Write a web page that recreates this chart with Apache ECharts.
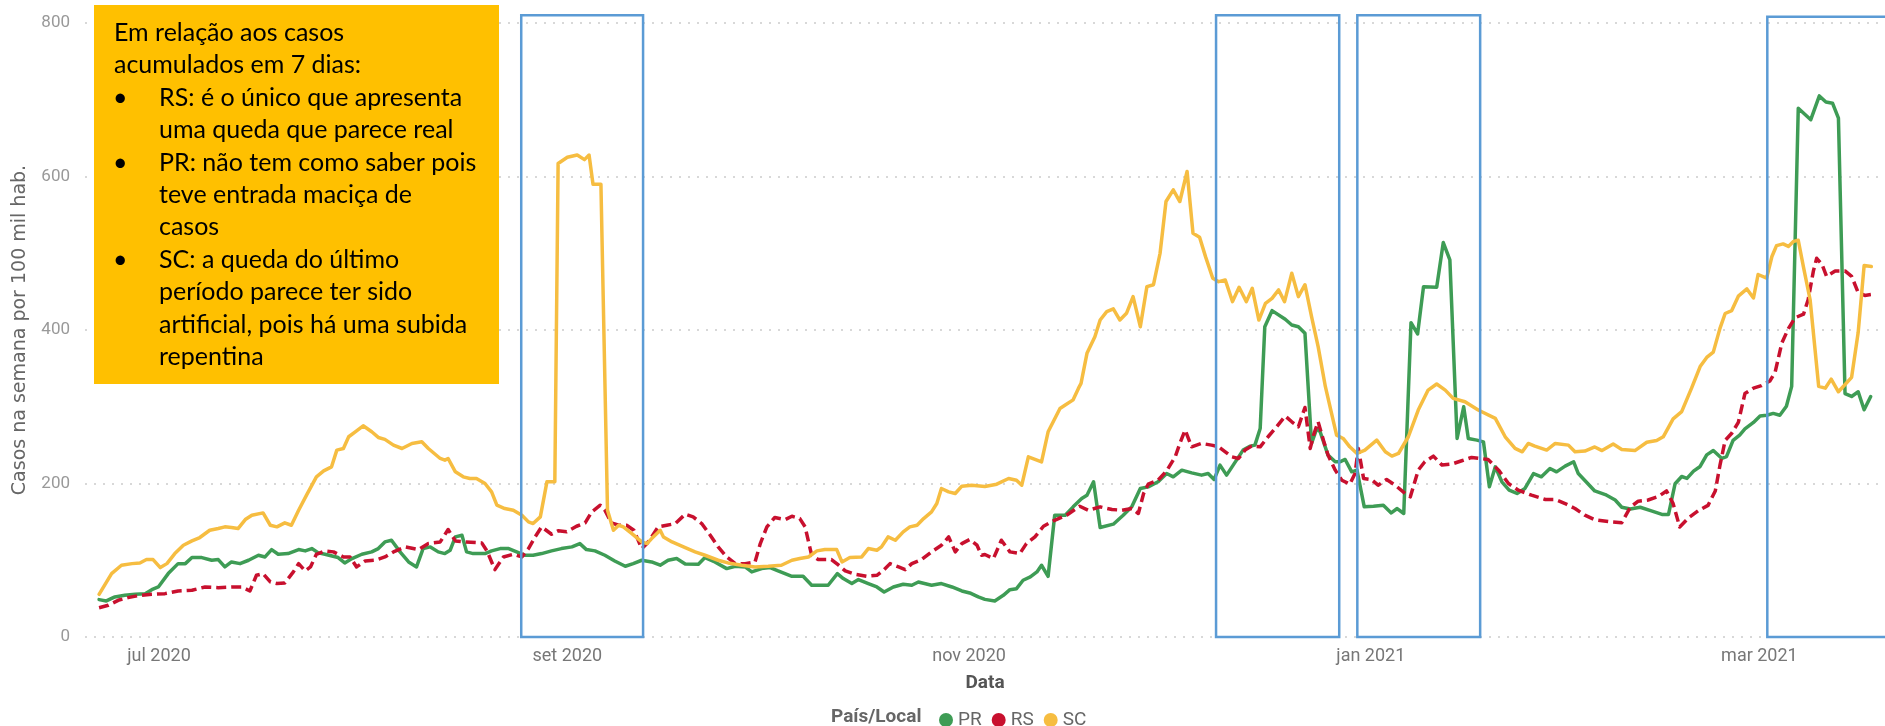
<!DOCTYPE html>
<html>
<head>
<meta charset="utf-8">
<title>Casos na semana por 100 mil hab.</title>
<script src="https://cdn.jsdelivr.net/npm/echarts@6/dist/echarts.min.js"></script>
<style>
  html, body { margin: 0; padding: 0; background: #fff; }
  #grafico { width: 1885px; height: 726px; }
</style>
</head>
<body>
<div id="grafico"></div>
<script>
// eixo x em dias contados a partir de 21/06/2020
var inicio = new Date(2020, 5, 21).getTime();
var DIA = 86400000;

var estados = ['PR', 'RS', 'SC'];
var cores = ['#3E9C55', '#C8102E', '#F6BD41'];

var mesesData = [[2020, 6], [2020, 8], [2020, 10], [2021, 0], [2021, 2]];
var mesesTexto = ['jul 2020', 'set 2020', 'nov 2020', 'jan 2021', 'mar 2021'];

var prDia = [0.9,2.0,3.3,4.8,6.4,7.9,8.9,9.9,11.4,12.9,14.0,15.0,16.5,18.0,19.0,20.0,21.0,22.3,23.6,25.1,26.1,27.1,28.1,29.6,31.2,32.2,33.2,34.2,35.2,37.2,38.2,39.3,40.8,42.3,43.3,44.3,45.3,46.6,47.9,49.1,50.1,51.2,52.4,53.4,54.2,55.0,56.0,56.7,57.7,59.5,60.5,61.8,63.1,64.3,65.6,66.8,68.1,69.6,71.1,72.7,73.9,74.9,76.2,77.7,79.2,80.8,82.0,83.3,84.8,86.1,87.3,88.6,89.9,91.9,92.9,94.4,96.2,97.5,99.0,100.0,101.5,102.8,104.0,106.1,107.8,109.1,111.6,113.0,113.9,115.2,116.2,117.7,119.0,120.1,121.5,123.0,124.3,125.3,127.3,128.8,130.4,131.9,133.1,134.4,135.4,136.9,138.2,139.2,140.2,141.2,142.3,143.3,144.0,145.0,146.0,147.6,148.8,150.1,150.9,151.9,152.9,154.9,156.4,157.7,159.0,160.2,161.7,163.0,164.0,165.3,166.8,168.3,169.3,170.2,171.1,172.1,173.1,174.6,175.7,176.4,177.2,177.9,179.0,181.0,182.0,183.0,184.0,185.0,185.8,186.3,187.5,188.6,189.3,190.1,191.1,191.9,193.0,194.4,195.9,197.1,198.0,199.0,200.1,201.1,202.0,204.0,205.0,206.0,207.1,208.1,208.8,210.1,211.1,212.0,212.9,213.9,215.0,216.2,217.4,218.7,219.9,221.2,222.2,223.5,224.8,225.5,226.5,228.0,229.6,231.1,232.1,233.4,234.9,236.6,238.2,239.2,240.2,241.2,242.0,243.0,244.0,245.0,246.0,247.3,248.0,249.0,250.0,250.8,252.1,253.1,254.1,255.1,256.1,257.1,257.9,258.9,260.8,262.1,263.1,264.1,265.0,266.0,267.0,268.0,268.9,269.9];
var prValor = [48.7,47,52.2,54.3,55.6,56.5,61.7,65.2,82.6,95.6,95.6,103.5,103.5,100,100.9,91.3,97.8,95.6,100,106.5,104.3,113.9,107.8,108.7,113.9,112.2,115.2,109.6,107.8,103.5,96.5,102.2,107.8,110.9,115.2,123.9,126.1,110.9,97.8,91.3,115.2,117.4,110.9,108.7,113,130.4,132.6,110.9,108.7,108.7,112.2,115.2,115.2,110.9,106.5,106.5,108.7,112.2,115.2,117.4,121.7,113.9,112.2,106.5,99.1,92.2,95.6,100,97.8,93.5,100,102.2,95,94.8,103.5,97.8,89.1,92.2,91.3,84.8,89.1,90.4,86.1,79.1,79.1,67.4,67.4,82.6,76.1,69.6,74.8,69.6,65.2,58.7,65.2,68.7,67.4,71.7,67.4,69.6,65.2,60,57.4,52.2,49,47,54.3,61.7,63,73.9,78.3,84.8,93.5,79.1,158.7,158.7,169.6,180.4,184.8,202.2,142.6,147,158.7,169.6,193.5,195.6,202.2,213,208.7,217.4,213.9,210.9,213,205.2,223.9,210.9,223.9,243.5,248.7,250,271.7,404.3,425.2,414,406.5,404.3,395.7,252.2,271.7,267.4,237,228.3,228.3,231.3,215.2,217.4,169.6,170.4,171.7,161.7,167.4,160.9,409.6,394.8,456.5,455.7,513.9,491.3,258.7,300,258.7,256.5,254.3,195.7,221.7,202.2,191.3,187,193.5,213,208.7,219.6,215.2,222.6,228.3,213,204,190.3,185.6,178.5,169.1,166.8,169.1,164.4,159.7,159.7,199.7,209.1,206.7,216.1,222.2,237.3,242.9,232.6,234.9,256.1,263.1,271.1,279.6,288,289,291.3,289,300.7,326.6,689,674,705,697,695.5,676,317.2,313.4,319.5,296,313.4];

var rsDia = [0.9,2.3,3.8,5.3,7.1,8.9,10.9,12.9,15.0,17.0,19.0,21.0,22.6,23.8,24.8,25.8,26.9,27.9,29.1,30.4,31.2,32.2,33.0,33.9,35.2,36.5,38.0,39.0,40.0,41.3,42.8,44.3,45.6,47.4,49.4,50.9,52.7,53.9,55.0,56.5,59.0,59.8,61.0,62.3,63.8,65.1,66.1,67.1,68.1,69.6,70.6,71.9,73.4,74.7,75.7,77.0,77.7,78.7,79.8,81.0,82.1,83.3,84.1,84.8,85.8,87.1,88.4,89.9,91.1,92.4,93.7,94.9,96.2,97.5,99.0,100.5,101.3,102.3,103.5,105.1,106.1,107.3,108.1,109.1,110.1,112.1,113.2,114.2,115.7,117.5,119.0,120.0,121.0,122.3,123.3,124.3,125.8,127.3,128.8,129.9,130.9,131.9,133.1,134.2,134.9,135.4,136.7,137.9,139.2,140.7,141.7,143.0,144.3,145.8,147.8,149.8,151.1,152.9,154.7,156.2,157.7,158.7,159.5,160.2,161.7,163.0,164.3,165.0,165.8,166.8,168.3,169.8,170.9,171.9,172.9,173.9,174.9,175.9,177.2,178.4,179.7,181.0,182.0,183.0,184.0,184.8,185.3,186.0,186.8,187.5,188.6,189.6,190.8,191.6,192.1,192.9,194.1,195.1,196.4,197.7,199.2,200.0,201.2,202.2,203.5,204.8,206.3,207.8,209.3,210.6,211.8,213.4,214.9,216.4,218.4,220.5,222.0,223.5,225.0,226.5,228.0,230.1,232.1,233.4,234.6,236.1,237.7,238.9,239.9,240.9,242.2,243.7,245.2,246.3,247.0,247.8,248.8,249.8,250.8,252.1,253.3,254.6,255.4,256.4,257.4,258.4,259.7,260.4,261.2,261.7,262.5,263.2,264.5,266.0,267.0,268.0,269.0,270.1];
var rsValor = [38.2,41.3,47.8,51.3,54.3,55.6,56.5,60,60.9,65.2,64.3,65.2,65.2,60,80.4,82.6,71.7,69.6,70.4,84.8,95.6,86.1,91.3,107.8,112.2,110.9,104.3,104.3,91.3,99.1,100,104.3,110.9,117.4,113.9,121.7,123.9,140,125.2,123.9,122.6,112.2,87.8,104.3,107.8,104.3,115.2,130.4,143.5,133.9,138.3,137,144.3,148.7,163,171.7,165.2,148.7,145.6,145.6,139.1,115.2,121.7,130.4,143.5,145.6,147.8,160,156.5,147.8,132.6,117.4,104.3,95.6,95.6,97.8,121.7,143.5,155.7,153,157.4,154.3,143.5,106.5,100.9,100.9,93.5,86.1,81.7,79.1,80.4,87,95.6,91.3,87.8,95.6,100.9,110.9,119.6,130.4,110.9,121.7,127,119.6,106.5,107.5,102.2,126.1,110.9,108.7,121.7,130.4,144.3,151.3,158.7,170.4,165.2,169.6,166.1,165.2,167.4,160.9,187,199.1,204.3,216.5,234.8,252.2,269.6,247.8,252.2,250,247.8,241.3,234.8,232.6,243.5,248.7,247.8,260.9,273.9,288,280.4,273.9,299.1,245.7,263,280.4,256.5,237,217.4,204.3,199.1,213,245.7,206.5,205.2,197.8,205.2,197.8,187,182.6,217.4,228.3,235.7,224,225.3,229.6,234,232.6,231.3,217.4,200,191.3,184.8,179.1,179.1,173.9,167.4,158.7,152.7,150.3,148.9,169.1,177,178.5,183.2,190.3,173.8,143.3,155,164.4,171.5,190.3,223.2,256.1,265.5,279.6,317.2,324.2,327.5,333.6,345.4,383,401.8,415.9,420.6,439.4,477,493.4,485.5,469.9,477,477,469.9,448.8,445,446.4];

var scDia = [0.9,2.8,4.3,5.9,7.1,8.1,9.1,10.2,11.2,12.4,13.7,15.0,16.2,17.7,19.0,20.0,21.0,22.0,23.1,24.1,25.8,26.9,27.9,29.1,30.1,31.2,32.4,33.9,35.0,36.2,37.0,38.0,38.8,39.8,41.0,42.3,43.3,44.3,45.6,46.9,48.4,49.9,50.9,52.7,53.4,53.9,55.0,56.2,57.2,58.2,59.5,60.5,61.3,62.5,63.8,65.1,66.1,66.8,67.9,68.9,70.1,70.6,72.0,73.5,74.6,75.3,75.9,77.1,78.1,79.0,79.8,80.5,81.8,83.3,84.1,84.8,86.1,86.6,87.9,89.9,91.4,92.9,94.9,96.4,98.5,100.5,102.5,104.5,106.1,107.3,108.6,109.9,111.1,112.9,113.7,114.9,116.7,117.7,119.0,119.7,120.7,121.8,123.0,124.0,125.1,126.1,127.3,128.1,128.8,129.9,130.9,131.9,133.4,135.4,137.2,139.0,140.2,141.0,142.0,144.0,145.0,146.8,147.6,148.8,149.6,150.0,150.9,152.1,152.9,153.9,154.9,155.9,156.9,157.9,159.0,160.0,161.0,162.0,162.9,164.0,165.0,166.1,167.0,168.0,168.9,170.0,170.9,171.9,173.0,174.0,175.1,176.0,177.0,178.0,179.0,180.0,180.9,182.0,183.0,184.0,185.0,186.0,187.1,188.8,189.8,190.8,191.9,193.1,194.9,196.2,197.2,198.2,199.7,201.2,202.7,204.0,205.3,206.5,208.3,210.3,212.9,214.4,215.9,217.0,217.9,218.9,220.7,222.0,224.0,225.0,226.5,228.0,229.1,230.8,232.1,234.1,235.9,237.4,238.4,239.9,241.2,242.7,244.0,245.0,246.0,247.0,247.8,248.8,249.8,251.1,252.1,252.8,254.1,254.9,255.6,256.6,257.4,258.2,258.9,259.7,260.7,262.0,263.0,263.9,265.0,267.0,268.0,268.9,270.0];
var scValor = [55.6,82.6,93.5,95.6,96.5,100.9,100.9,90.4,95.6,108.7,119.6,125.2,129.6,139.1,141.3,143.5,142.6,141.3,153,158.7,161.7,145.6,143.5,148.7,145.6,165.2,184.8,208.7,216.5,221.7,243.5,245.6,260.9,267.4,275.2,267.4,260,257.5,250,245.6,252.2,254.3,245.6,232.6,230.4,232.6,215.2,208.7,206.5,206.5,200,189,171.7,167.4,165.2,158.7,150,147.8,156.5,202.2,202.2,617,625,628,622,628,590,590,165,139,145.6,143.5,134.8,123.9,121.7,128.2,139.1,130.4,123.9,116.5,110.9,106.5,100,96.5,93.5,91.3,92.2,93.5,100,102.2,104.3,112.2,113.9,113.9,97.8,103.5,104.3,115.2,113,117.4,130.4,126.1,137,143.5,145.6,154.3,163,173.9,193.5,189.1,187,196.5,197.8,196,199.1,206.5,204.3,197.8,234.8,228.2,267.4,297.8,302.2,309,323.9,330.4,369.6,391.3,413,423.9,427.5,413,421.7,443.5,404.3,456.5,459,500,567.4,582.6,567.4,606.5,526,520.9,495.6,467.4,463,465.2,437,455.6,437,454.3,413,434.8,441.3,452.2,437,474,443.5,459,417.4,378.3,326.1,263,258.7,247.8,239.1,243.5,256.5,241.3,235.7,239.1,260.9,295.7,321.7,329.6,321.7,310.9,306.5,295.7,284.8,260.9,245.7,241.3,252.2,248.7,243.5,252.2,250,241.3,242.3,247.6,242.9,251.4,244.3,242.9,253.7,256.1,260.8,284.3,293.7,324.2,352.4,364.2,371.2,401.8,421.5,425.3,444.1,453.5,441.7,472.3,467.6,495.8,509.9,512.2,508.9,515.5,516.9,481.7,439.4,326.6,324.2,336,319.5,338.3,397,484,482.6];

// caixas azuis de destaque (dias e topo em casos)
var caixaInicio = [65.0, 170.5, 191.95, 254.2];
var caixaFim = [83.5, 189.2, 210.6, 280];
var caixaTopo = [810, 810, 810, 808];

var notaLinhas = [
    ['', 'Em relação aos casos', 0],
    ['', 'acumulados em 7 dias:', 0],
    ['•', 'RS: é o único que apresenta', 1],
    ['', 'uma queda que parece real', 1],
    ['•', 'PR: não tem como saber pois', 1],
    ['', 'teve entrada maciça de', 1],
    ['', 'casos', 1],
    ['•', 'SC: a queda do último', 1],
    ['', 'período parece ter sido', 1],
    ['', 'artificial, pois há uma subida', 1],
    ['', 'repentina', 1]
];

var juntar = function(dias, valores){
    var out = [];
    for (var i = 0; i < dias.length; i++) {
        out.push([dias[i], valores[i]]);
    }
    return out;
};

// primeiro dia de cada mês marcado, em dias desde o início
var mesesTick = mesesData.map(function(m){
    return Math.round((new Date(m[0], m[1], 1).getTime() - inicio) / DIA);
});

var caixas = [];
for (var i = 0; i < caixaInicio.length; i++) {
    caixas.push([caixaInicio[i], caixaFim[i], caixaTopo[i]]);
}

// caixa amarela com o texto
var nota = [{
    type: 'rect',
    shape: { x: 94, y: 5, width: 405, height: 379 },
    style: { fill: '#FFC000' },
    z: 100
}];
notaLinhas.forEach(function(l, k){
    var y = 33 + k * 32.4;
    if (l[0]) {
        nota.push({ type: 'text', x: 113, y: y, z: 101,
            style: { text: l[0], fontFamily: 'Lato', fontSize: 25, fill: '#000', verticalAlign: 'middle' } });
    }
    nota.push({ type: 'text', x: l[2] ? 159 : 114, y: y, z: 101,
        style: { text: l[1], fontFamily: 'Lato', fontSize: 25, fill: '#000', verticalAlign: 'middle' } });
});

var series = [];
var dados = [juntar(prDia, prValor), juntar(rsDia, rsValor), juntar(scDia, scValor)];
for (var s = 0; s < estados.length; s++) {
    series.push({
        name: estados[s],
        type: 'line',
        data: dados[s],
        symbol: 'none',
        showSymbol: false,
        clip: false,
        color: cores[s],
        itemStyle: { color: cores[s] },
        lineStyle: {
            width: 3.5,
            color: cores[s],
            type: s == 1 ? [10, 5] : 'solid',
            join: 'round',
            cap: s == 1 ? 'butt' : 'round'
        },
        emphasis: { disabled: true }
    });
}
series.push({
    type: 'custom',
    name: 'caixas',
    data: caixas,
    encode: { x: [0, 1], y: 2 },
    clip: false,
    z: 10,
    silent: true,
    renderItem: function(params, api){
        var p0 = api.coord([api.value(0), api.value(2)]);
        var p1 = api.coord([api.value(1), 0]);
        return {
            type: 'rect',
            shape: { x: p0[0], y: p0[1], width: p1[0] - p0[0], height: p1[1] - p0[1] },
            style: { fill: 'none', stroke: '#5B9BD5', lineWidth: 2.5 }
        };
    }
});

var chart = echarts.init(document.getElementById('grafico'));
var option = {
    animation: false,
    backgroundColor: '#FFFFFF',
    textStyle: { fontFamily: 'Roboto' },
    title: {
        text: 'País/Local',
        left: 831,
        top: 707,
        padding: 0,
        textStyle: { fontFamily: 'Roboto', fontSize: 19, fontWeight: 'bold', color: '#666', lineHeight: 20 }
    },
    legend: {
        data: estados,
        icon: 'circle',
        itemWidth: 14,
        itemHeight: 14,
        itemGap: 10,
        left: 939,
        top: 710,
        padding: 0,
        itemStyle: { borderWidth: 0 },
        textStyle: { fontFamily: 'Roboto', fontSize: 19, color: '#666', lineHeight: 20 }
    },
    grid: {
        left: 85,
        right: 0,
        top: 23,
        bottom: 89,
        containLabel: false,
        outerBoundsMode: 'none'
    },
    xAxis: {
        type: 'value',
        min: -1.236,
        max: 272.07,
        name: 'Data',
        nameLocation: 'middle',
        nameGap: 36,
        nameTextStyle: { fontFamily: 'Roboto', fontSize: 19, fontWeight: 'bold', color: '#555', lineHeight: 20 },
        axisLine: { show: false },
        axisTick: { show: false },
        splitLine: { show: false },
        axisLabel: {
            customValues: mesesTick,
            margin: 10,
            fontFamily: 'Roboto',
            fontSize: 18,
            color: '#777',
            formatter: function(val){
                var i = mesesTick.indexOf(Math.round(val));
                return i >= 0 ? mesesTexto[i] : '';
            }
        }
    },
    yAxis: {
        type: 'value',
        min: 0,
        max: 800,
        interval: 200,
        name: 'Casos na semana por 100 mil hab.',
        nameLocation: 'middle',
        nameGap: 53,
        nameTextStyle: { fontFamily: 'DejaVu Sans', fontSize: 19, color: '#666', lineHeight: 20 },
        axisLine: { show: false },
        axisTick: { show: false },
        axisLabel: { margin: 15, fontFamily: 'Roboto', fontSize: 17, color: '#999' },
        splitLine: { show: true, lineStyle: { type: [2, 7], color: '#cccccc', width: 1.5 } }
    },
    graphic: { elements: nota },
    series: series
};
chart.setOption(option);
</script>
</body>
</html>
